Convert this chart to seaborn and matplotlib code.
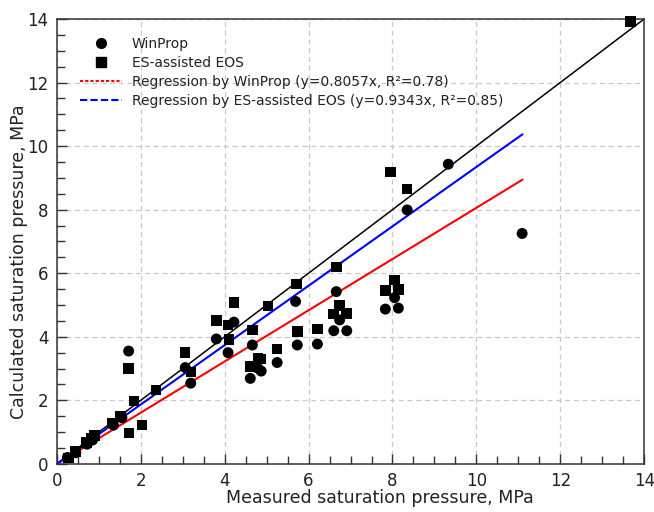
import matplotlib
matplotlib.use("Agg")
import matplotlib.pyplot as plt
from matplotlib.lines import Line2D
from matplotlib.ticker import MultipleLocator
import numpy as np
import pandas as pd
import seaborn as sns

# Measured vs calculated saturation pressure (MPa)
winprop_measured = [0.25, 0.45, 0.72, 0.85, 1.35, 1.55, 1.71, 3.06, 3.19, 3.80,
                    4.08, 4.22, 4.66, 4.61, 4.79, 4.87, 5.25, 5.69, 5.73, 6.21,
                    6.66, 6.74, 6.60, 6.91, 7.83, 8.05, 8.14, 8.35, 9.33, 11.09]
winprop_calc = [0.20, 0.35, 0.62, 0.75, 1.22, 1.45, 3.55, 3.03, 2.54, 3.93,
                3.50, 4.46, 3.74, 2.69, 3.01, 2.92, 3.19, 5.11, 3.74, 3.77,
                5.42, 4.53, 4.19, 4.19, 4.87, 5.23, 4.90, 7.99, 9.43, 7.25]

es_measured = [0.27, 0.45, 0.71, 0.83, 0.90, 1.33, 1.52, 1.72, 1.71, 1.84,
               2.03, 2.36, 3.05, 3.20, 3.80, 4.08, 4.10, 4.22, 4.66, 4.61,
               4.79, 4.87, 5.03, 5.25, 5.71, 5.74, 6.21, 6.66, 6.74, 6.60,
               6.91, 7.83, 7.95, 8.05, 8.14, 8.35, 13.68]
es_calc = [0.18, 0.39, 0.67, 0.81, 0.89, 1.28, 1.50, 0.97, 3.01, 1.98,
           1.22, 2.32, 3.50, 2.89, 4.51, 4.37, 3.92, 5.08, 4.21, 3.06,
           3.32, 3.30, 4.97, 3.61, 5.66, 4.16, 4.25, 6.19, 4.98, 4.71,
           4.74, 5.45, 9.19, 5.79, 5.49, 8.65, 13.92]

slope_winprop = 0.8057
slope_es = 0.9343
r2_winprop = 0.78
r2_es = 0.85
fit_range = [0.0, 11.1]
axis_max = 14

sns.set_theme(style="white")
plt.rcParams["font.family"] = ["DejaVu Sans"]
text_color = "#222222"

fig = plt.figure(figsize=(6.54, 5.12), dpi=100)
ax = fig.add_axes([0.087, 0.094, 0.898, 0.869])

# 1:1 reference line
ax.plot([0, axis_max], [0, axis_max], color="black", lw=1.1, zorder=2)

# regression lines
fx = np.array(fit_range)
sns.lineplot(x=fx, y=slope_winprop * fx, color="red", lw=1.5, ax=ax, zorder=3)
sns.lineplot(x=fx, y=slope_es * fx, color="blue", lw=1.5, ax=ax, zorder=3)

# data points
df_w = pd.DataFrame({"measured": winprop_measured, "calc": winprop_calc})
df_e = pd.DataFrame({"measured": es_measured, "calc": es_calc})
sns.scatterplot(data=df_w, x="measured", y="calc", marker="o", s=62,
                color="black", edgecolor="none", ax=ax, zorder=4, clip_on=False)
sns.scatterplot(data=df_e, x="measured", y="calc", marker="s", s=58,
                color="black", edgecolor="none", ax=ax, zorder=5, clip_on=False)

ax.set_xlim(0, axis_max)
ax.set_ylim(0, axis_max)
ax.xaxis.set_major_locator(MultipleLocator(2))
ax.yaxis.set_major_locator(MultipleLocator(2))
ax.xaxis.set_minor_locator(MultipleLocator(0.5))
ax.yaxis.set_minor_locator(MultipleLocator(0.5))
ax.tick_params(which="both", direction="in", bottom=True, left=True,
               top=False, right=False, color="#333333", width=1.0)
ax.tick_params(which="major", length=7, labelsize=12, labelcolor=text_color, pad=6)
ax.tick_params(which="minor", length=6)
ax.grid(True, which="major", color="#c8c8c8", linestyle=(0, (4, 3)), lw=0.9)
for sp in ax.spines.values():
    sp.set_color("#333333")
    sp.set_linewidth(1.1)

ax.set_xlabel("Measured saturation pressure, MPa", fontsize=12.5, color=text_color)
ax.set_ylabel("Calculated saturation pressure, MPa", fontsize=12.5, color=text_color)
ax.xaxis.set_label_coords(0.55, -0.056)
ax.yaxis.set_label_coords(-0.05, 0.455)

handles = [
    Line2D([], [], marker="o", color="black", ls="none", markersize=7),
    Line2D([], [], marker="s", color="black", ls="none", markersize=7),
    Line2D([], [], color="red", ls=(0, (1.5, 1)), lw=1.5),
    Line2D([], [], color="blue", ls=(0, (3.5, 1.5)), lw=1.5),
]
labels = [
    "WinProp",
    "ES-assisted EOS",
    f"Regression by WinProp (y={slope_winprop}x, R\u00b2={r2_winprop})",
    f"Regression by ES-assisted EOS (y={slope_es}x, R\u00b2={r2_es})",
]
leg = ax.legend(handles, labels, loc="upper left", bbox_to_anchor=(0.025, 0.978),
                frameon=False, fontsize=10.0, handlelength=3.0, handletextpad=0.75,
                labelspacing=0.36, borderaxespad=0.2)
for t in leg.get_texts():
    t.set_color(text_color)

fig.savefig("out.png", dpi=100)
